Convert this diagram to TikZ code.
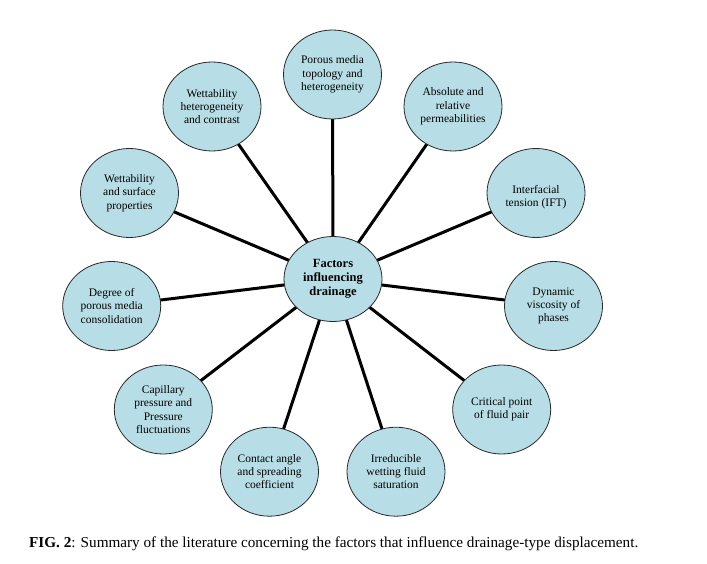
\documentclass[tikz,border=0pt]{standalone}
\usepackage{fontspec}
\setmainfont{Liberation Serif}
\usetikzlibrary{shapes.geometric}
\definecolor{blobfill}{RGB}{183,222,230}
\definecolor{blobline}{RGB}{40,40,40}
\begin{document}
\begin{tikzpicture}[x=1pt,y=-1pt,
  blob/.style={ellipse,draw=blobline,line width=0.8pt,fill=blobfill,minimum width=98pt,minimum height=89pt,inner sep=0pt},
  hub/.style={blob,minimum height=85pt},
  lbl/.style={align=center,font=\fontsize{11.5}{13.3}\selectfont,inner sep=0pt},
  hublbl/.style={align=center,font=\fontsize{12.5}{14}\selectfont\bfseries,inner sep=0pt},
  spoke/.style={line width=3pt,black}]
\useasboundingbox (0,0) rectangle (707,564);
\fill[white] (0,0) rectangle (707,564);
% coordinates of centres
\coordinate (cC) at (333,279);
\coordinate (c1) at (332.5,74.5);
\coordinate (c2) at (453,106.5);
\coordinate (c3) at (536,193);
\coordinate (c4) at (553.5,306);
\coordinate (c5) at (501.7,409.5);
\coordinate (c6) at (396,471.7);
\coordinate (c7) at (269.5,471.7);
\coordinate (c8) at (163.3,409.5);
\coordinate (c9) at (111.7,306);
\coordinate (c10) at (129.5,193);
\coordinate (c11) at (212,106.5);
% spokes
\foreach \i in {1,...,11} \draw[spoke] (cC) -- (c\i);
% ellipses
\node[hub] (hub) at (cC) {};
\foreach \i in {1,...,11} \node[blob] (n\i) at (c\i) {};
% labels
\node[hublbl] (thub) at (hub) {Factors\\influencing\\drainage};
\node[lbl] (t1) at (n1) {Porous media\\topology and\\heterogeneity};
\node[lbl] (t2) at (n2) {Absolute and\\relative\\permeabilities};
\node[lbl] (t3) at ([yshift=-4pt]n3) {Interfacial\\tension (IFT)};
\node[lbl] (t4) at (n4) {Dynamic\\viscosity of\\phases};
\node[lbl] (t5) at (n5) {Critical point\\of fluid pair};
\node[lbl] (t6) at (n6) {Irreducible\\wetting fluid\\saturation};
\node[lbl] (t7) at (n7) {Contact angle\\and spreading\\coefficient};
\node[lbl] (t8) at (n8) {Capillary\\pressure and\\Pressure\\fluctuations};
\node[lbl] (t9) at (n9) {Degree of\\porous media\\consolidation};
\node[lbl] (t10) at (n10) {Wettability\\and surface\\properties};
\node[lbl] (t11) at (n11) {Wettability\\heterogeneity\\and contrast};
% caption
\node[anchor=base west,inner sep=0pt,font=\fontsize{15.2}{17}\selectfont] (cap) at (29,547.3)
  {\textbf{FIG. 2}: Summary of the literature concerning the factors that influence drainage-type displacement.};
\end{tikzpicture}
\end{document}
